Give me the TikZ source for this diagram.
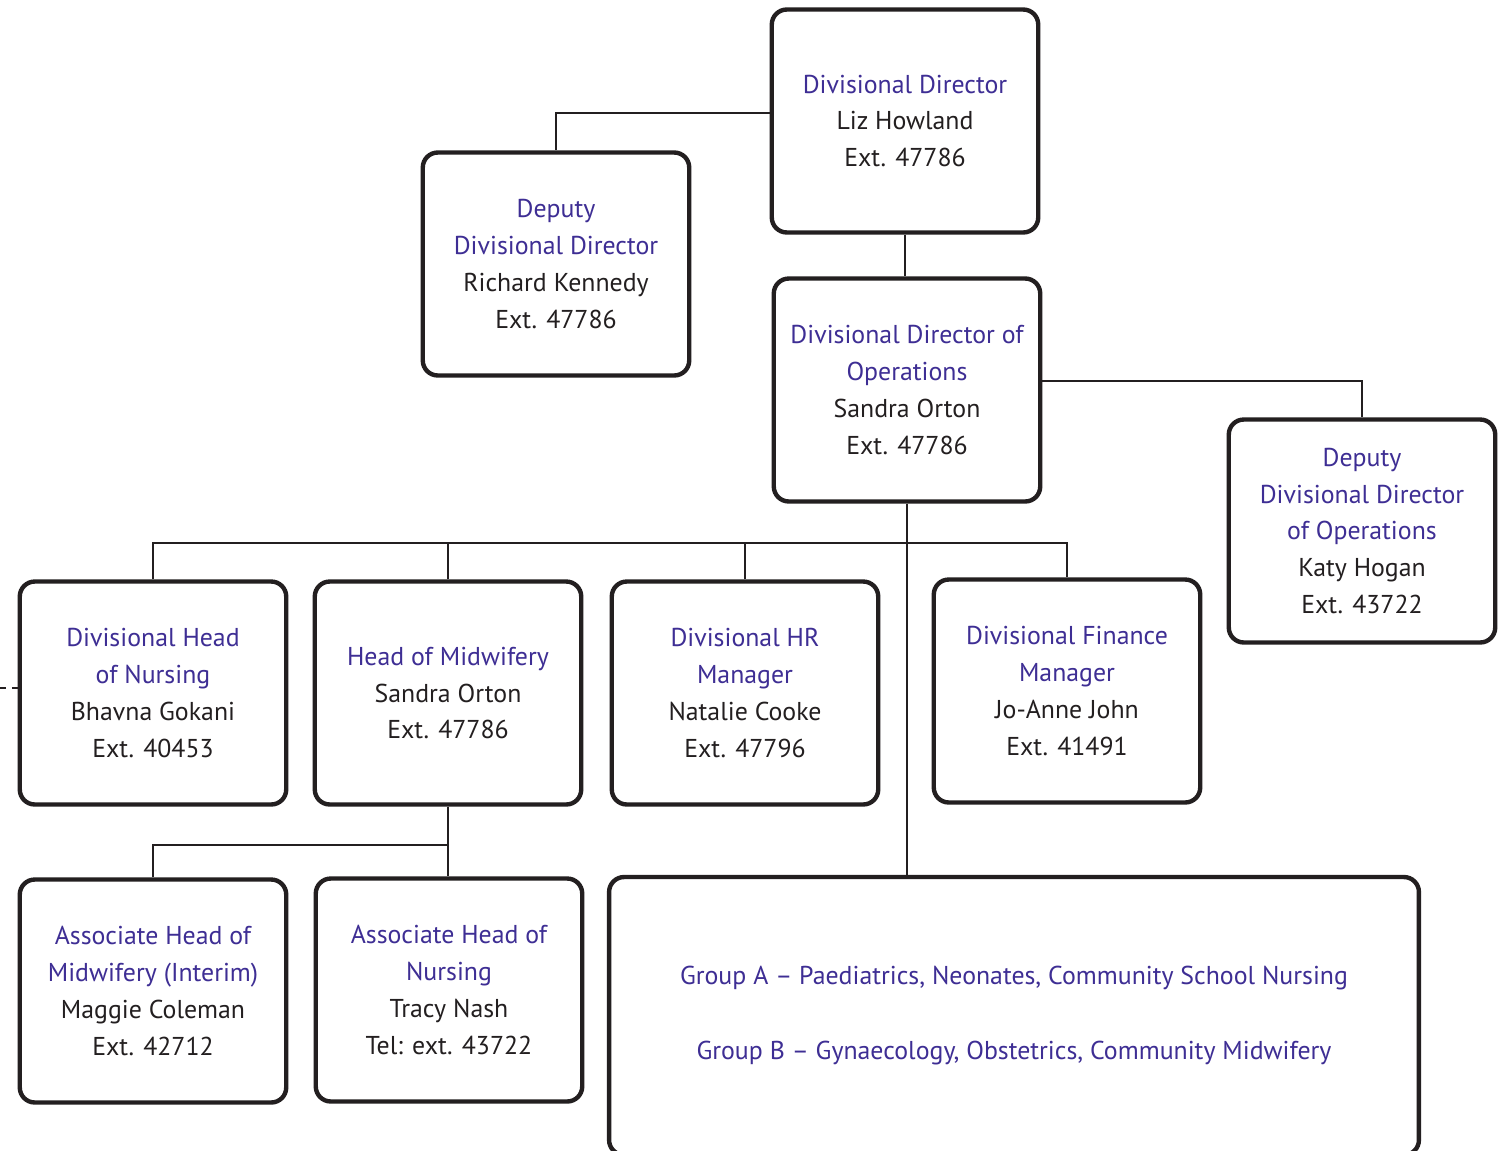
\documentclass[tikz,border=0pt]{standalone}
\usepackage{fontspec}
\setmainfont{PT Sans}
\usetikzlibrary{positioning}

\definecolor{rolecol}{RGB}{62,46,148}
\definecolor{inkcol}{RGB}{35,31,32}

\begin{document}
\begin{tikzpicture} [x=0.02cm,y=-0.02cm,
	every node/.style={font=\fontsize{14.7pt}{21pt}\selectfont},
	box/.style={draw=inkcol,text=rolecol,line width=2.5pt,rounded corners=0.3cm,align=center,
		minimum width=5.33cm,minimum height=4.46cm,inner sep=0pt},
	link/.style={draw=inkcol,line width=1.6pt}]

\clip (0,0) rectangle (1504,1150);
\fill[white] (0,0) rectangle (1504,1150);

\newcommand{\post}[6]{
	\node[box](#1) at (#2,#3){#4\\\color{inkcol}#5\\\color{inkcol}#6};
}

\post{dd}{905}{121}{Divisional Director}{Liz Howland}{Ext. 47786}
\post{ddd}{556}{264}{Deputy\\Divisional Director}{Richard Kennedy}{Ext. 47786}
\post{ddo}{907}{390}{Divisional Director of\\Operations}{Sandra Orton}{Ext. 47786}
\post{dddo}{1362}{531}{Deputy\\Divisional Director\\of Operations}{Katy Hogan}{Ext. 43722}
\post{dhn}{153}{693}{Divisional Head\\of Nursing}{Bhavna Gokani}{Ext. 40453}
\post{hom}{448}{693}{Head of Midwifery}{Sandra Orton}{Ext. 47786}
\post{hr}{745}{693}{Divisional HR\\Manager}{Natalie Cooke}{Ext. 47796}
\post{fin}{1067}{691}{Divisional Finance\\Manager}{Jo-Anne John}{Ext. 41491}
\post{ahm}{153}{991}{Associate Head of\\Midwifery (Interim)}{Maggie Coleman}{Ext. 42712}
\post{ahn}{449}{990}{Associate Head of\\Nursing}{Tracy Nash}{Tel: ext. 43722}
\node[box,minimum width=16.2cm,minimum height=5.56cm,
	font=\fontsize{14.7pt}{42.7pt}\selectfont](grp) at (1014,1016)
	{Group A -- Paediatrics, Neonates, Community School Nursing\\Group B -- Gynaecology, Obstetrics, Community Midwifery};

% buses
\coordinate (bus) at (906,543);
\coordinate (mbus) at (448,845);
\coordinate (lft) at (0,688);

\draw[link] ([yshift=0.16cm]dd.west) -| (ddd.north);
\draw[link] (dd.south) -- (dd.south |- ddo.north);
\draw[link] ([yshift=0.18cm]ddo.east) -| (dddo.north);
\draw[link] (ddo.south) -- (ddo.south |- grp.north);
\foreach \n in {dhn,hom,hr,fin}{
	\draw[link] (\n.north) |- (bus);
}
\draw[link] (hom.south) -- (hom.south |- ahn.north);
\draw[link] (ahm.north) |- (mbus);
\draw[link,dash pattern=on 3.4pt off 3.4pt] (lft) -- (dhn.west |- lft);

\end{tikzpicture}
\end{document}
